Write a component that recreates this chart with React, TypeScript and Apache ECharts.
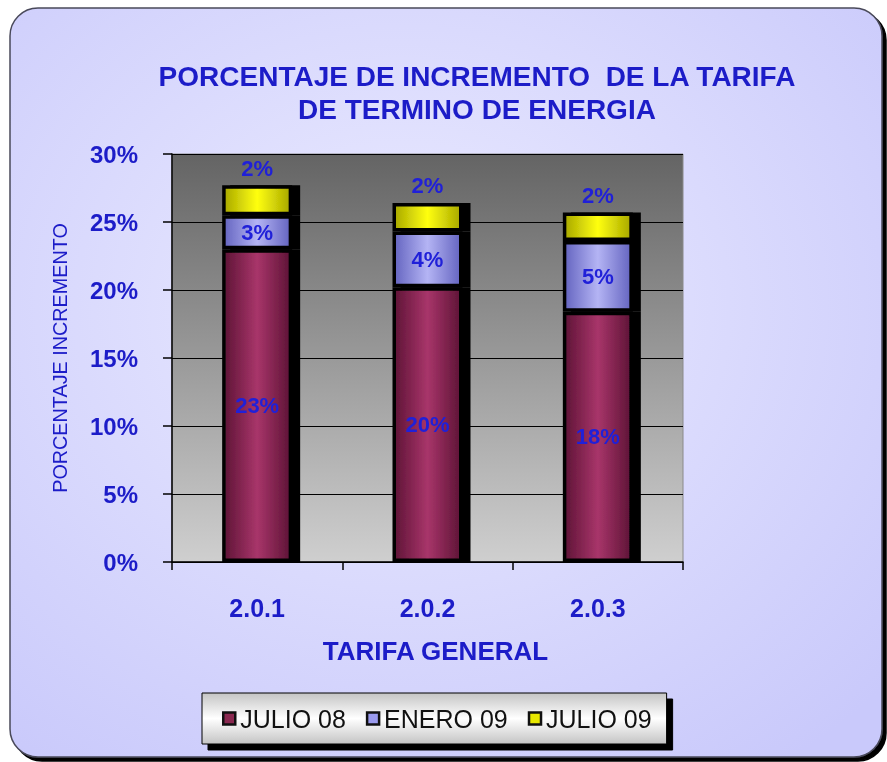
import React, { useEffect, useRef } from "react";
import * as echarts from "echarts";

const categories = ["2.0.1", "2.0.2", "2.0.3"];
const julio08 = [23.0, 20.2, 18.4];
const enero09 = [2.5, 4.1, 5.2];
const julio09 = [2.2, 2.1, 2.1];
const seriesNames = ["JULIO 08", "ENERO 09", "JULIO 09"];
const yTicks = { min: 0, max: 30, interval: 5 };

const BLUE = "#1c1cc8";
const FONT = "'Liberation Sans', Arial, sans-serif";

function hGrad(edge: string, mid: string) {
  return new echarts.graphic.LinearGradient(0, 0, 1, 0, [
    { offset: 0, color: edge },
    { offset: 0.5, color: mid },
    { offset: 1, color: edge },
  ]);
}

export default function App() {
  const ref = useRef<HTMLDivElement>(null);
  useEffect(() => {
    if (!ref.current) return;
    const chart = echarts.init(ref.current, null, { renderer: "svg" });
    const labelStyle = {
      show: true,
      color: "#2020d8",
      fontSize: 22,
      fontWeight: "bold" as const,
      fontFamily: FONT,
      formatter: (p: any) => Math.round(p.value) + "%",
    };
    const barCommon = {
      type: "bar" as const,
      stack: "total",
      barWidth: 70,
    };
    const itemBase = {
      borderColor: "#000",
      borderWidth: 3.5,
      shadowColor: "#000",
      shadowOffsetX: 8,
      shadowOffsetY: 0,
      shadowBlur: 0,
    };
    const legendItem = (color: string) => ({
      color,
      borderColor: "#111",
      borderWidth: 2.5,
      shadowBlur: 0,
      shadowOffsetX: 0,
    });
    chart.setOption({
      animation: false,
      graphic: [
        {
          type: "rect",
          z: -10,
          shape: { x: 10, y: 8, width: 872, height: 749, r: 28 },
          style: {
            fill: new echarts.graphic.RadialGradient(0.45, 0.4, 0.75, [
              { offset: 0, color: "#ebebff" },
              { offset: 1, color: "#c9c9fb" },
            ]),
            stroke: "#4a4a5a",
            lineWidth: 1.5,
            shadowColor: "#000",
            shadowOffsetX: 4,
            shadowOffsetY: 4,
            shadowBlur: 0,
          },
        },
      ],
      title: {
        text: "PORCENTAJE DE INCREMENTO  DE LA TARIFA\nDE TERMINO DE ENERGIA",
        left: 477,
        top: 60,
        textAlign: "center",
        padding: 0,
        textStyle: {
          color: BLUE,
          fontSize: 28,
          fontWeight: "bold",
          fontFamily: FONT,
          lineHeight: 33,
        },
      },
      legend: {
        left: 202,
        top: 693,
        orient: "horizontal",
        padding: [13, 15, 13, 20],
        itemGap: 20,
        itemWidth: 12,
        itemHeight: 12,
        icon: "rect",
        backgroundColor: new echarts.graphic.LinearGradient(0, 0, 0, 1, [
          { offset: 0, color: "#c4c4c4" },
          { offset: 0.5, color: "#ffffff" },
          { offset: 1, color: "#c4c4c4" },
        ]),
        borderColor: "#000",
        borderWidth: 1,
        shadowColor: "#000",
        shadowOffsetX: 6,
        shadowOffsetY: 6,
        shadowBlur: 0,
        textStyle: { color: "#111", fontSize: 25, fontFamily: FONT },
        data: [
          { name: seriesNames[0], itemStyle: legendItem("#8a2850") },
          { name: seriesNames[1], itemStyle: legendItem("#9a9aee") },
          { name: seriesNames[2], itemStyle: legendItem("#e8e800") },
        ],
      },
      grid: {
        left: 172,
        top: 154,
        width: 511,
        height: 408,
        show: true,
        borderColor: "#8a8a8a",
        borderWidth: 1,
        backgroundColor: new echarts.graphic.LinearGradient(0, 0, 0, 1, [
          { offset: 0, color: "#646464" },
          { offset: 1, color: "#cfcfcf" },
        ]),
      },
      xAxis: {
        type: "category",
        data: categories,
        axisLine: { lineStyle: { color: "#000", width: 1.5 } },
        axisTick: { show: true, length: 8, lineStyle: { color: "#000", width: 1.5 } },
        axisLabel: {
          color: BLUE,
          fontSize: 25,
          fontWeight: "bold",
          fontFamily: FONT,
          lineHeight: 25,
          margin: 33,
        },
        name: "TARIFA GENERAL",
        nameLocation: "middle",
        nameGap: 76,
        nameTextStyle: {
          color: BLUE,
          fontSize: 26,
          fontWeight: "bold",
          fontFamily: FONT,
          lineHeight: 26,
          padding: [0, 0, 0, 16],
        },
      },
      yAxis: {
        type: "value",
        min: yTicks.min,
        max: yTicks.max,
        interval: yTicks.interval,
        axisLine: { show: true, lineStyle: { color: "#000", width: 1.5 } },
        axisTick: { show: true, length: 9, lineStyle: { color: "#000", width: 1.5 } },
        splitLine: { show: true, lineStyle: { color: "#000", width: 1 } },
        axisLabel: {
          color: BLUE,
          fontSize: 24,
          fontWeight: "bold",
          fontFamily: FONT,
          margin: 34,
          formatter: "{value}%",
        },
        name: "PORCENTAJE INCREMENTO",
        nameLocation: "middle",
        nameGap: 102,
        nameTextStyle: {
          color: BLUE,
          fontSize: 19.8,
          fontFamily: FONT,
        },
      },
      series: [
        {
          ...barCommon,
          name: seriesNames[0],
          data: julio08,
          itemStyle: { ...itemBase, color: hGrad("#5e1436", "#a8356a") },
          label: { ...labelStyle, position: "inside" },
        },
        {
          ...barCommon,
          name: seriesNames[1],
          data: enero09,
          itemStyle: { ...itemBase, color: hGrad("#6464c0", "#b4b4f4") },
          label: { ...labelStyle, position: "inside" },
        },
        {
          ...barCommon,
          name: seriesNames[2],
          data: julio09,
          itemStyle: { ...itemBase, color: hGrad("#a8a800", "#ffff10") },
          label: { ...labelStyle, position: "top", distance: 6 },
        },
      ],
    });
    return () => chart.dispose();
  }, []);
  return (
    <div
      ref={ref}
      style={{ position: "fixed", left: 0, top: 0, width: 887, height: 762 }}
    />
  );
}
